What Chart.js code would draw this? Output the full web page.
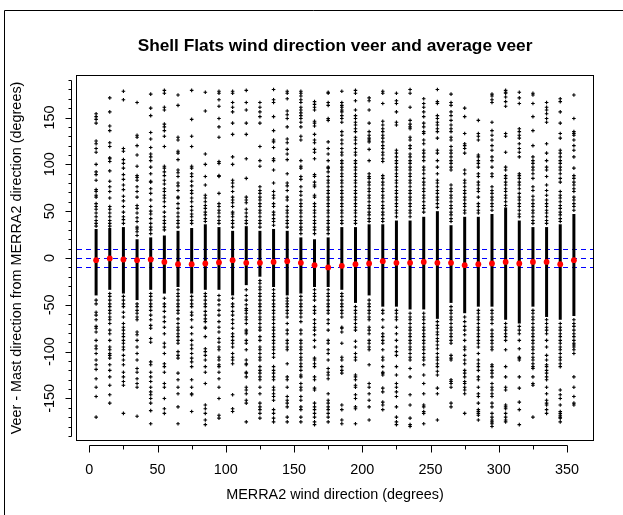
<!DOCTYPE html>
<html>
<head>
<meta charset="utf-8">
<script src="https://cdn.jsdelivr.net/npm/chart.js@4"></script>
<style>
  html, body { margin: 0; padding: 0; background: #fff; }
  #wrap { width: 623px; height: 515px; }
</style>
</head>
<body>
<div id="wrap"><canvas id="veer" width="623" height="515"></canvas></div>
<script>
// MERRA2 direction bins (degrees)
const directions = [5, 15, 25, 35, 45, 55, 65, 75, 85, 95, 105, 115, 125, 135, 145, 155, 165, 175,
  185, 195, 205, 215, 225, 235, 245, 255, 265, 275, 285, 295, 305, 315, 325, 335, 345, 355];

// average veer per bin (red points)
const avgVeer = [-2.3, -0.5, -1.6, -2.3, -1.6, -4.2, -6.6, -6.6, -5.9, -4.8, -2.3, -5.2, -5.2, -4.2,
  -3.4, -5.2, -7.7, -10.1, -8.4, -6.6, -5.9, -3.4, -5.2, -5.2, -4.2, -5.2, -5.2, -7.7, -6.6, -5.9,
  -4.2, -5.9, -4.2, -4.2, -6.6, -2.3];

// range where the points of a bin overlap into a solid column
const denseTop = [31, 32, 33, 20, 22, 24, 29, 32, 36, 33, 29, 34, 29, 31, 29, 22, 20, 22,
  33, 33, 36, 36, 40, 40, 44, 50, 35, 44, 44, 47, 54, 40, 33, 33, 36, 47];
const denseBottom = [-40, -34, -38, -45, -34, -38, -31, -38, -34, -34, -40, -29, -20, -31, -40, -38, -31, -31,
  -34, -48, -40, -52, -52, -55, -55, -65, -48, -59, -52, -52, -66, -70, -52, -63, -66, -62];

// individual veer values above / below the solid column
const sparseAbove = [
  [154,151,148,144,125,122,117,113,100,92,89,83,73,71,67,65,58,55,52,48,44,40,37,34],
  [171,156,141,136,123,119,107,106,103,93,82,76,71,64,55,52,48,44,40,37,34],
  [178,169,117,114,105,101,96,89,84,78,73,66,61,55,49,44,41,37],
  [166,131,129,120,110,98,88,86,83,76,71,65,56,53,48,43,39,33,31,28,24],
  [175,160,152,134,127,118,111,108,104,97,90,82,81,74,69,62,55,50,47,42,37,33,30,26],
  [179,176,161,158,143,140,136,130,119,98,96,92,88,83,79,74,71,67,64,60,55,49,44,40,37,33,30],
  [174,163,129,126,114,112,105,94,91,87,80,77,72,65,64,58,53,48,44,40,37,33],
  [179,148,130,119,98,96,90,87,82,77,72,69,64,60,55,51,47,44,40,37],
  [177,157,111,100,87,78,67,64,60,56,53,49,46,42,39],
  [178,176,169,162,149,140,129,103,101,88,87,69,58,55,51,48,44,40,37],
  [178,176,166,161,156,144,132,108,100,83,80,76,71,65,62,59,55,49,47,44,40,37,33],
  [179,166,158,144,132,106,85,65,62,59,52,48,44,40,37],
  [166,161,156,151,144,119,104,98,76,72,69,65,62,58,55,51,48,44,40,37,33],
  [180,169,166,151,136,126,124,118,106,104,94,80,71,67,64,58,55,49,46,42,39,35],
  [178,176,170,157,153,149,140,127,123,116,111,105,90,80,77,72,65,62,55,51,48,44,40,37,33],
  [178,176,173,169,166,161,158,155,152,149,145,140,130,126,104,98,96,87,84,76,71,67,62,58,55,51,48,44,40,37,33,30,26],
  [167,164,161,158,146,144,141,132,126,123,116,113,106,89,87,81,78,76,67,65,58,55,51,48,44,40,37,33,30,26],
  [177,176,166,163,149,147,124,117,111,104,97,96,92,87,83,80,76,72,69,65,62,58,55,51,48,44,40,37,33,30,26],
  [178,166,163,161,158,156,152,149,145,135,131,126,122,117,113,110,104,101,97,94,90,87,83,80,76,72,69,65,62,58,55,51,48,44,40,37],
  [179,176,168,158,152,149,145,142,138,135,129,126,122,117,113,110,104,101,97,94,90,87,83,80,76,72,69,65,62,58,55,51,48,44,40,37],
  [171,168,158,144,135,131,128,126,124,116,104,90,87,85,81,78,74,71,67,64,60,56,53,49,46,42,39],
  [178,176,165,146,142,138,135,131,128,124,120,117,113,110,106,103,88,85,81,78,74,71,67,64,60,56,53,49,46,42,39],
  [176,168,165,156,145,142,115,112,108,104,101,97,94,90,87,83,80,76,72,69,65,62,58,55,51,48,44],
  [180,176,161,147,143,140,138,129,126,120,117,111,108,104,101,97,94,90,87,83,80,76,72,69,65,62,58,55,51,48,44],
  [170,165,161,156,151,144,140,135,133,126,122,115,112,108,104,97,94,90,85,81,78,74,71,67,64,60,56,53,49],
  [180,167,165,152,149,145,142,138,135,128,115,112,104,97,90,83,80,76,72,69,65,62,58,54],
  [175,166,163,156,152,147,142,138,135,129,126,119,115,112,108,104,101,97,94,78,74,71,67,64,60,56,53,49,46,42,39],
  [160,151,133,122,120,117,112,94,90,83,80,76,72,69,65,62,58,55,51,48],
  [147,133,130,126,110,108,104,101,97,90,87,81,78,74,71,65,58,55,51,48],
  [175,173,169,166,145,136,131,126,120,115,108,104,97,90,87,76,72,69,65,62,58,55,51],
  [179,177,176,172,167,162,133,130,113,97,94,88,85,81,78,74,71,67,64,60,56],
  [177,171,165,138,135,131,128,122,117,113,108,90,88,85,81,78,74,69,65,62,58,55,51,47,44],
  [176,174,165,151,136,120,108,104,101,97,94,90,85,76,72,66,62,58,55,51,48,44,40,37],
  [166,161,158,154,149,145,122,112,104,97,94,87,78,72,67,62,58,55,51,48,44,40,37],
  [170,167,156,144,133,128,115,112,108,104,101,97,94,90,85,81,71,67,64,60,56,53,49,46,42,39],
  [174,149,135,133,131,126,120,115,108,96,88,85,81,78,74,71,65,62,58,55,51]
];
const sparseBelow = [
  [-45,-49,-58,-61,-66,-73,-75,-79,-88,-94,-97,-102,-109,-114,-119,-129,-138,-148,-170],
  [-38,-41,-45,-49,-52,-56,-59,-63,-66,-70,-77,-81,-88,-95,-98,-102,-104,-107,-114,-120,-127,-136,-146,-155],
  [-41,-45,-49,-52,-58,-63,-70,-74,-77,-81,-84,-88,-91,-95,-98,-104,-109,-114,-122,-127,-132,-136,-166],
  [-49,-52,-56,-59,-63,-66,-79,-82,-88,-95,-102,-109,-118,-122,-129,-134,-138,-169],
  [-38,-41,-45,-49,-52,-56,-61,-66,-72,-75,-86,-90,-111,-114,-122,-127,-132,-138,-143,-146,-150,-155,-163,-177],
  [-43,-49,-52,-57,-63,-68,-74,-81,-91,-95,-102,-113,-116,-122,-134,-138,-150,-161,-166],
  [-34,-38,-41,-45,-49,-52,-56,-59,-65,-70,-74,-77,-81,-84,-88,-91,-100,-104,-107,-123,-130,-138,-145,-159,-177],
  [-41,-45,-49,-52,-58,-61,-66,-74,-81,-88,-93,-97,-102,-107,-111,-116,-130,-138,-145,-146,-164],
  [-38,-41,-45,-49,-52,-57,-61,-65,-68,-74,-75,-84,-97,-100,-104,-109,-116,-122,-134,-157,-161,-166,-173,-178],
  [-40,-45,-50,-56,-61,-68,-74,-79,-86,-90,-95,-98,-106,-109,-114,-116,-122,-129,-138,-150,-168,-171],
  [-43,-49,-52,-57,-61,-66,-70,-75,-81,-84,-88,-91,-95,-102,-106,-109,-113,-146,-161,-164],
  [-34,-40,-45,-50,-54,-56,-59,-63,-66,-70,-77,-79,-81,-88,-91,-98,-109,-113,-114,-122,-123,-127,-138,-141,-145,-152,-155,-175],
  [-24,-27,-31,-34,-38,-41,-45,-49,-52,-56,-59,-63,-66,-70,-74,-77,-84,-88,-95,-98,-102,-106,-109,-116,-120,-123,-127,-130,-138,-145,-155,-159,-162,-166,-171],
  [-34,-38,-41,-45,-49,-52,-56,-59,-63,-66,-70,-74,-77,-81,-84,-88,-91,-95,-98,-102,-106,-116,-120,-123,-127,-130,-138,-141,-145,-148,-152,-162,-166,-171,-175],
  [-43,-46,-49,-52,-56,-59,-63,-70,-77,-81,-88,-91,-95,-98,-113,-127,-130,-138,-148,-152,-155,-159,-170,-175],
  [-41,-45,-49,-52,-56,-59,-63,-68,-77,-81,-88,-91,-95,-98,-102,-106,-109,-113,-116,-120,-125,-127,-134,-138,-141,-148,-152,-159,-162,-170,-175],
  [-34,-38,-41,-45,-52,-56,-59,-66,-70,-74,-77,-82,-88,-95,-107,-109,-113,-116,-127,-130,-139,-141,-155,-159,-162,-166,-170,-175,-178],
  [-34,-38,-41,-45,-49,-52,-56,-59,-66,-70,-77,-88,-91,-98,-102,-109,-118,-122,-125,-129,-145,-152,-155,-159,-162,-166,-170,-175],
  [-38,-41,-45,-49,-52,-56,-59,-63,-74,-75,-79,-91,-106,-109,-116,-120,-123,-157,-162,-173,-177],
  [-52,-56,-59,-63,-66,-70,-74,-77,-89,-95,-102,-106,-109,-125,-127,-130,-136,-138,-146,-150,-159,-161,-177],
  [-45,-49,-52,-56,-59,-63,-66,-74,-77,-81,-88,-91,-95,-98,-114,-134,-138,-145,-152,-159,-173],
  [-56,-59,-66,-74,-81,-84,-88,-91,-98,-106,-109,-116,-122,-123,-125,-139,-143,-154,-157,-162],
  [-56,-59,-63,-66,-74,-81,-88,-95,-100,-104,-116,-125,-134,-138,-143,-148,-159,-170,-175,-178],
  [-59,-63,-66,-70,-74,-77,-81,-84,-88,-91,-95,-98,-102,-106,-109,-118,-127,-146,-157,-171,-178,-180],
  [-59,-63,-66,-70,-74,-77,-81,-84,-88,-91,-95,-98,-102,-106,-109,-114,-125,-134,-145,-157,-159,-164,-166,-177],
  [-68,-72,-75,-79,-82,-86,-89,-93,-97,-102,-106,-109,-113,-116,-121,-125,-139,-145,-173],
  [-52,-56,-59,-63,-66,-70,-74,-77,-81,-84,-88,-91,-104,-107,-109,-130,-132,-134,-138,-155,-159],
  [-63,-68,-73,-77,-82,-88,-95,-98,-104,-109,-113,-120,-123,-127,-132,-134,-138,-141,-145,-166],
  [-56,-59,-63,-66,-70,-74,-77,-81,-84,-88,-91,-95,-102,-109,-113,-116,-120,-127,-130,-138,-145,-148,-155,-162,-164,-166,-168,-173],
  [-56,-59,-63,-66,-70,-77,-81,-84,-88,-91,-95,-98,-114,-116,-120,-123,-127,-134,-138,-141,-145,-148,-155,-159,-166,-170,-173,-175,-177,-180],
  [-70,-74,-77,-81,-84,-88,-98,-116,-127,-138,-141,-157,-159,-161,-166,-170,-173,-175],
  [-73,-77,-81,-88,-97,-106,-107,-109,-127,-139,-154,-162,-178],
  [-56,-59,-63,-66,-70,-74,-77,-81,-84,-88,-91,-95,-98,-102,-106,-109,-113,-116,-118,-127,-134,-136,-170],
  [-66,-70,-74,-77,-81,-88,-95,-104,-109,-114,-116,-120,-123,-127,-130,-138,-145,-152,-155,-157,-162,-166],
  [-70,-74,-77,-81,-84,-88,-91,-95,-98,-102,-106,-109,-113,-116,-141,-146,-150,-157,-164,-166,-168,-170,-171,-175],
  [-66,-70,-73,-77,-81,-84,-88,-91,-93,-95,-98,-102,-127,-138,-148,-155,-157]
];

// dashed reference levels (degrees)
const refLines = [10, 0, -10];

const xTicks = [0, 25, 50, 75, 100, 125, 150, 175, 200, 225, 250, 275, 300, 325, 350];
const xTickLabels = [0, 50, 100, 150, 200, 250, 300, 350];
const yTicks = [-190, -180, -170, -160, -150, -140, -130, -120, -110, -100, -90, -80, -70, -60, -50,
  -40, -30, -20, -10, 0, 10, 20, 30, 40, 50, 60, 70, 80, 90, 100, 110, 120, 130, 140, 150, 160, 170, 180, 190];
const yTickLabels = [-150, -100, -50, 0, 50, 100, 150];

const FONT = '"Liberation Sans", Arial, Helvetica, sans-serif';

const veerPoints = [];
directions.forEach((d, i) => {
  sparseAbove[i].forEach(v => veerPoints.push({ x: d, y: v }));
  sparseBelow[i].forEach(v => veerPoints.push({ x: d, y: v }));
});

// dashed levels behind the points
const backdrop = {
  id: 'backdrop',
  beforeDatasetsDraw(chart) {
    const { ctx, chartArea: a, scales: { y } } = chart;
    ctx.save();
    ctx.strokeStyle = '#0000ff';
    ctx.lineWidth = 1;
    ctx.setLineDash([5, 4]);
    refLines.forEach(v => {
      const py = Math.round(y.getPixelForValue(v)) + 0.5;
      ctx.beginPath();
      ctx.moveTo(a.left, py);
      ctx.lineTo(a.right, py);
      ctx.stroke();
    });
    ctx.restore();
  }
};

// R style box and axes drawn off the plot region
const rAxes = {
  id: 'rAxes',
  afterDraw(chart) {
    const { ctx, chartArea: a, scales: { x, y } } = chart;
    ctx.save();
    ctx.strokeStyle = '#000';
    ctx.lineWidth = 1;
    ctx.setLineDash([]);
    ctx.strokeRect(Math.round(a.left) - 0.5, Math.round(a.top) - 0.5,
      Math.round(a.right - a.left) + 1, Math.round(a.bottom - a.top) + 1);

    // x axis
    const ax = Math.round(a.bottom) + 5.5;
    ctx.beginPath();
    ctx.moveTo(Math.round(x.getPixelForValue(xTicks[0])) + 0.5, ax);
    ctx.lineTo(Math.round(x.getPixelForValue(xTicks[xTicks.length - 1])) + 0.5, ax);
    xTicks.forEach(v => {
      const px = Math.round(x.getPixelForValue(v)) + 0.5;
      ctx.moveTo(px, ax);
      ctx.lineTo(px, ax + (xTickLabels.includes(v) ? 7 : 4));
    });
    ctx.stroke();

    // y axis
    const ay = Math.round(a.left) - 5.5;
    ctx.beginPath();
    ctx.moveTo(ay, Math.round(y.getPixelForValue(yTicks[0])) + 0.5);
    ctx.lineTo(ay, Math.round(y.getPixelForValue(yTicks[yTicks.length - 1])) + 0.5);
    yTicks.forEach(v => {
      const py = Math.round(y.getPixelForValue(v)) + 0.5;
      ctx.moveTo(ay, py);
      ctx.lineTo(ay - (yTickLabels.includes(v) ? 6 : 3), py);
    });
    ctx.stroke();

    // outer figure frame (top and left edges visible)
    ctx.beginPath();
    ctx.moveTo(4.5, chart.height);
    ctx.lineTo(4.5, 10.5);
    ctx.lineTo(chart.width, 10.5);
    ctx.stroke();
    ctx.restore();
  }
};

new Chart(document.getElementById('veer'), {
  type: 'scatter',
  data: {
    datasets: [
      {
        label: 'Average veer',
        data: directions.map((d, i) => ({ x: d, y: avgVeer[i] })),
        pointStyle: 'circle',
        pointRadius: 2.9,
        pointBackgroundColor: '#ff0000',
        pointBorderWidth: 0,
        order: 0
      },
      {
        label: 'Veer',
        data: veerPoints,
        pointStyle: 'cross',
        pointRadius: 1.8,
        pointBorderColor: '#000',
        pointBorderWidth: 1.1,
        order: 1
      },
      {
        type: 'bar',
        label: 'Veer (dense)',
        data: directions.map((d, i) => ({ x: d, y: [denseBottom[i], denseTop[i]] })),
        backgroundColor: '#000',
        borderWidth: 0,
        barThickness: 3,
        maxBarThickness: 3,
        inflateAmount: 0,
        grouped: false,
        order: 2
      }
    ]
  },
  options: {
    responsive: false,
    devicePixelRatio: 1,
    animation: false,
    layout: { padding: { left: 0, right: 30, top: 0, bottom: 0 } },
    plugins: {
      legend: { display: false },
      tooltip: { enabled: false },
      title: {
        display: true,
        fullSize: false,
        text: 'Shell Flats wind direction veer and average veer',
        color: '#000',
        font: { family: FONT, size: 17.3, weight: 'bold' },
        padding: { top: 35.6, bottom: 19.6 }
      }
    },
    scales: {
      x: {
        type: 'linear',
        offset: false,
        min: -9,
        max: 369,
        afterBuildTicks: s => { s.ticks = xTicks.map(v => ({ value: v })); },
        afterFit: s => { s.height = 75; },
        grid: { display: false, drawTicks: false, offset: false },
        border: { display: false },
        ticks: {
          autoSkip: false,
          maxRotation: 0,
          padding: 21.4,
          color: '#000',
          font: { family: FONT, size: 14.4 },
          callback: v => xTickLabels.includes(v) ? String(v) : ''
        },
        title: {
          display: true,
          text: 'MERRA2 wind direction (degrees)',
          color: '#000',
          font: { family: FONT, size: 14.4 },
          padding: { top: 0, bottom: 11.4 }
        }
      },
      y: {
        type: 'linear',
        min: -194.4,
        max: 194.4,
        afterBuildTicks: s => { s.ticks = yTicks.map(v => ({ value: v })); },
        afterFit: s => { s.width = 77; },
        grid: { display: false, drawTicks: false },
        border: { display: false },
        ticks: {
          autoSkip: false,
          minRotation: 90,
          maxRotation: 90,
          crossAlign: 'center',
          padding: 12.1,
          color: '#000',
          font: { family: FONT, size: 14.4 },
          callback: v => yTickLabels.includes(v) ? String(v) : ''
        },
        title: {
          display: true,
          text: 'Veer - Mast direction from MERRA2 direction (degrees)',
          color: '#000',
          font: { family: FONT, size: 14.4 },
          padding: { top: 8, bottom: 0 }
        }
      }
    }
  },
  plugins: [backdrop, rAxes]
});
</script>
</body>
</html>
